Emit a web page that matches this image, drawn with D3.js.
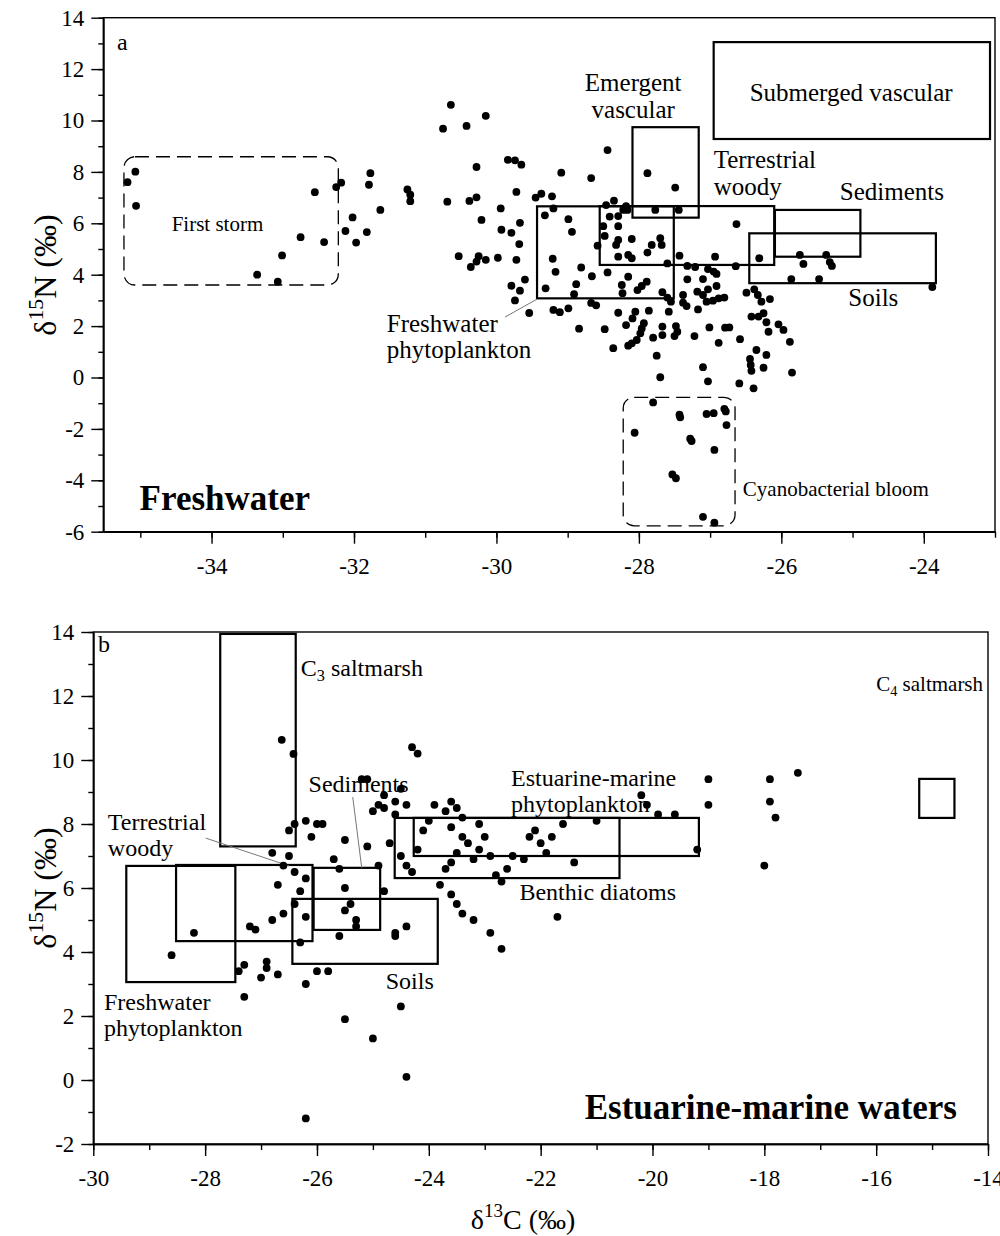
<!DOCTYPE html>
<html><head><meta charset="utf-8">
<script src="https://cdn.jsdelivr.net/npm/d3@7"></script>
<style>
body{margin:0;background:#fff}
svg text{font-family:"Liberation Serif","Times New Roman",serif;fill:#000}
</style></head>
<body><svg id="chart" width="1000" height="1236"></svg>
<script>
// ---------- DATA ----------
// Panel a (Freshwater): [δ13C, δ15N]
const freshwaterPoints = [
[-35.07,8.01],[-35.18,7.60],[-35.06,6.68],[-33.36,4.00],[-33.07,3.73],[-33.01,4.75],[-32.75,5.46],[-32.55,7.21],[-32.42,5.27],[-32.25,7.41],[-32.18,7.58],[-32.12,5.70],[-32.02,6.23],[-31.97,5.25],[-31.82,5.66],[-31.79,7.50],[-31.77,7.95],[-31.63,6.52],
[-30.64,10.61],[-30.15,10.18],[-30.75,9.68],[-30.42,9.79],[-29.84,8.47],[-29.74,8.45],[-29.65,8.28],[-30.28,8.19],[-29.09,7.97],[-28.67,7.76],[-31.25,7.32],[-31.21,7.11],[-31.21,6.86],[-30.69,6.84],[-30.38,6.87],[-30.28,7.01],[-29.72,7.22],[-29.45,7.00],[-29.37,7.15],[-29.22,7.05],[-29.20,6.58],[-29.32,6.31],[-29.94,6.58],[-30.21,6.13],[-29.93,5.75],[-29.79,5.63],[-29.67,6.02],[-29.68,5.19],[-28.99,6.16],[-28.94,5.67],[-28.58,5.13],[-30.53,4.72],[-30.25,4.72],[-30.28,4.51],[-30.36,4.30],[-30.15,4.58],[-29.98,4.66],[-29.72,4.58],[-29.21,4.62],[-29.17,4.11],[-28.81,4.28],
[-28.66,3.94],[-29.60,3.81],[-29.79,3.57],[-29.67,3.38],[-29.74,3.00],[-29.54,2.51],[-29.31,3.47],[-28.88,3.63],[-28.91,3.24],[-29.20,2.63],[-29.11,2.54],[-28.99,2.69],[-28.67,2.90],[-28.60,2.81],[-28.84,1.90],
[-28.44,8.85],[-27.88,7.95],[-27.49,7.39],[-28.35,6.88],[-28.46,6.71],[-28.18,6.67],[-28.22,6.52],[-28.16,6.52],[-27.77,6.52],[-27.44,6.52],[-28.41,6.26],[-28.29,6.28],[-28.50,5.89],[-28.29,5.89],[-26.63,5.97],[-28.48,5.51],[-28.29,5.35],[-28.32,5.16],[-28.10,5.39],[-27.70,5.42],[-27.68,5.16],[-27.82,5.16],[-28.29,4.70],[-28.15,4.77],[-28.10,4.64],[-27.88,4.86],[-27.60,4.44],[-27.43,4.74],[-26.93,4.70],[-26.31,4.64],[-25.74,4.77],[-25.69,4.42],[-27.32,4.34],[-27.21,4.30],[-26.64,4.33],
[-27.03,4.22],[-26.95,4.12],[-26.91,4.03],[-28.44,4.09],[-28.15,3.92],[-28.24,3.60],[-28.23,3.28],[-27.89,3.73],[-27.96,3.56],[-28.02,3.40],[-27.67,3.32],[-27.60,3.11],[-27.55,2.95],[-27.32,3.82],[-27.10,3.83],[-26.91,3.56],[-27.03,3.43],[-27.18,3.34],[-27.10,3.21],[-27.05,2.95],[-26.96,2.99],[-26.88,3.08],[-26.80,3.11],[-27.38,3.21],[-27.38,2.91],[-27.33,2.78],[-27.58,2.56],[-27.17,2.65],[-26.49,3.30],[-26.38,3.43],[-26.33,3.21],[-26.28,2.95],[-26.16,3.05],[-25.86,3.83],[-28.29,2.52],[-28.05,2.56],[-28.09,2.30],[-27.86,2.60],[-28.18,2.04],[-28.48,1.88],[-27.93,2.11],[-27.96,1.91],[-27.98,1.72],[-27.67,1.98],[-27.67,1.65],[-27.48,2.00],[-27.46,1.78],[-27.50,1.61],[-27.80,1.55],[-27.22,1.61],[-27.01,1.95],[-26.79,1.94],[-26.73,1.95],[-26.42,2.37],[-26.32,2.37],[-26.25,2.50],[-26.21,2.15],[-26.18,1.78],[-26.04,2.07],[-25.97,1.85],[-25.88,1.39],[-26.88,1.35],[-26.58,1.49],[-28.03,1.46],[-28.10,1.33],[-28.15,1.24],[-28.36,1.14],[-27.75,0.85],[-26.35,1.07],[-26.21,0.88],[-26.44,0.72],[-26.43,0.49],[-26.42,0.26],[-26.25,0.38],[-27.10,0.40],[-25.85,0.19],[-27.70,0.01],[-27.03,-0.15],[-26.59,-0.23],[-26.39,-0.42],
[-27.80,-0.97],[-27.43,-1.45],[-27.42,-1.55],[-27.05,-1.42],[-26.95,-1.39],[-26.80,-1.22],[-26.78,-1.32],[-26.77,-1.85],[-28.06,-2.15],[-27.28,-2.38],[-27.26,-2.47],[-26.94,-2.82],[-27.53,-3.77],[-27.48,-3.92],[-27.10,-5.42],[-26.94,-5.65],
[-25.37,4.77],[-25.32,4.49],[-25.29,4.34],[-25.47,3.83],[-23.88,3.52]
];
// Panel b (Estuarine-marine waters): [δ13C, δ15N]
const estuarinePoints = [
[-28.2,4.6],[-28.6,3.9],[-27.2,4.8],[-27.1,4.7],[-27.3,3.6],[-27.4,3.4],[-27.3,2.6],[-27.0,3.2],[-26.9,3.5],[-26.9,3.7],[-26.7,3.3],[-26.8,5.0],[-26.6,5.2],[-26.7,6.1],[-26.6,6.7],[-26.5,7.0],[-26.8,7.1],[-26.4,5.5],[-26.3,5.9],[-26.4,6.5],[-26.2,6.3],[-26.2,5.1],[-26.3,4.3],[-26.2,3.0],[-26.0,3.4],[-25.8,3.4],[-26.1,7.6],[-26.0,8.0],[-25.9,8.0],[-26.2,8.1],[-26.4,8.0],[-26.5,7.8],[-26.63,10.63],[-26.42,10.19],[-25.7,6.9],[-25.6,6.6],[-25.5,7.5],[-25.5,6.0],[-25.4,5.5],[-25.3,5.0],[-25.5,5.3],[-25.3,4.8],[-25.2,9.4],[-25.1,9.4],[-25.0,8.4],[-25.1,7.3],[-24.9,6.7],[-24.8,5.9],[-25.6,4.5],[-25.5,1.9],[-25.0,1.3],[-24.4,0.1],[-26.2,-1.2],[-24.5,2.3],[-24.6,4.5],[-24.6,4.6],[-24.4,4.8],
[-24.3,10.4],[-24.2,10.2],[-24.5,9.1],[-24.6,8.7],[-24.4,8.6],[-24.6,8.3],[-24.8,8.5],[-24.9,8.6],[-24.8,8.9],[-24.7,7.4],[-24.5,7.0],[-24.4,6.7],[-24.3,6.5],[-24.2,7.2],[-24.1,7.8],[-24.0,8.1],[-23.9,8.6],[-23.7,8.4],[-23.6,8.7],[-23.5,8.5],[-23.4,8.2],[-23.6,7.9],[-23.4,7.6],[-23.3,7.4],[-23.5,7.1],[-23.6,6.8],[-23.7,6.6],[-23.8,6.1],[-23.6,5.8],[-23.5,5.5],[-23.2,6.9],[-23.1,7.2],[-23.0,7.6],[-23.1,8.0],[-22.9,7.0],[-22.8,6.4],[-22.7,6.2],[-22.6,6.6],[-22.5,7.0],[-22.3,6.9],[-22.2,7.6],[-22.1,7.8],[-22.0,7.4],[-21.9,7.1],[-21.8,7.6],[-21.6,8.0],[-21.4,6.8],[-21.7,5.1],[-22.9,4.6],[-22.7,4.1],[-23.4,5.2],[-23.2,5.0],[-21.0,8.1],[-20.2,8.9],[-20.1,8.6],[-19.9,8.3],[-19.6,8.3],[-19.2,7.2],[-19.0,9.4],[-19.0,8.6],[-18.0,6.7],[-17.9,9.4],[-17.9,8.7],[-17.8,8.2],[-17.4,9.6]
];

// Source boxes: [name, xMin, xMax, yMin, yMax]
const freshwaterBoxes = [
["Submerged vascular",-26.95,-23.07,9.28,13.05],
["Emergent vascular",-28.09,-27.16,6.22,9.74],
["Terrestrial woody",-28.55,-26.10,4.38,6.67],
["Freshwater phytoplankton",-29.43,-27.51,3.08,6.66],
["Sediments",-26.09,-24.89,4.70,6.52],
["Soils",-26.45,-23.83,3.67,5.61]
];
const freshwaterEvents = [
["First storm",-35.23,-32.22,3.60,8.59],
["Cyanobacterial bloom",-28.22,-26.65,-5.77,-0.77]
];
const estuarineBoxes = [
["C3 saltmarsh",-27.73,-26.38,7.3,13.94],
["C4 saltmarsh",-15.23,-14.60,8.19,9.41],
["Estuarine-marine phytoplankton",-24.27,-19.17,7.0,8.19],
["Benthic diatoms",-24.61,-20.59,6.31,8.19],
["Terrestrial woody",-28.52,-26.08,4.34,6.72],
["Freshwater phytoplankton",-29.41,-27.46,3.06,6.69],
["Sediments",-26.06,-24.87,4.69,6.63],
["Soils",-26.44,-23.84,3.63,5.66]
];

// Axis ticks
const xMajorA = [-34,-32,-30,-28,-26,-24];
const xMinorA = [-35,-34,-33,-32,-31,-30,-29,-28,-27,-26,-25,-24,-23];
const yMajorA = [-6,-4,-2,0,2,4,6,8,10,12,14];
const yMinorA = [-6,-5,-4,-3,-2,-1,0,1,2,3,4,5,6,7,8,9,10,11,12,13,14];
const xMajorB = [-30,-28,-26,-24,-22,-20,-18,-16,-14];
const xMinorB = [-30,-29,-28,-27,-26,-25,-24,-23,-22,-21,-20,-19,-18,-17,-16,-15,-14];
const yMajorB = [-2,0,2,4,6,8,10,12,14];
const yMinorB = [-2,-1,0,1,2,3,4,5,6,7,8,9,10,11,12,13,14];

// Annotation texts: [parts, x, y, anchor, size]
const labelsA = [
[[["Submerged vascular","n"]],-25.02,10.76,"middle",25],
[[["Emergent","n"]],-28.08,11.15,"middle",25],
[[["vascular","n"]],-28.08,10.10,"middle",25],
[[["Terrestrial","n"]],-26.95,8.15,"start",25],
[[["woody","n"]],-26.95,7.10,"start",25],
[[["Sediments","n"]],-25.18,6.91,"start",25],
[[["Soils","n"]],-25.06,2.78,"start",25],
[[["Freshwater","n"]],-31.54,1.77,"start",25],
[[["phytoplankton","n"]],-31.54,0.76,"start",25],
[[["First storm","n"]],-34.56,5.70,"start",21],
[[["Cyanobacterial bloom","n"]],-26.54,-4.63,"start",21]
];
const leadersA = [[-29.88,2.35,-29.43,3.05]];
const labelsB = [
[[["C","n"],["3","sub"],[" saltmarsh","n"]],-26.29,12.63,"start",24],
[[["C","n"],["4","sub"],[" saltmarsh","n"]],-16.0,12.16,"start",21],
[[["Estuarine-marine","n"]],-22.53,9.19,"start",24],
[[["phytoplankton","n"]],-22.53,8.38,"start",24],
[[["Sediments","n"]],-26.15,9.0,"start",24],
[[["Terrestrial","n"]],-29.74,7.81,"start",24],
[[["woody","n"]],-29.74,7.0,"start",24],
[[["Benthic diatoms","n"]],-22.38,5.63,"start",24],
[[["Soils","n"]],-24.77,2.84,"start",24],
[[["Freshwater","n"]],-29.81,2.19,"start",24],
[[["phytoplankton","n"]],-29.81,1.38,"start",24]
];
const leadersB = [[-27.99,7.56,-26.5,6.69],[-25.36,8.84,-25.2,6.63]];

// ---------- DRAW ----------
const svg = d3.select("#chart");
svg.append("rect").attr("width",1000).attr("height",1236).attr("fill","#fff");

function richText(g, parts, size) {
  let shift = 0;
  parts.forEach(([t, kind]) => {
    const ts = g.append("tspan").text(t);
    if (kind === "sub") { ts.attr("font-size", size*0.68).attr("dy", size*0.22 - shift); shift = size*0.22; }
    else if (kind === "sup") { ts.attr("font-size", size*0.68).attr("dy", -size*0.42 - shift); shift = -size*0.42; }
    else { ts.attr("dy", -shift); shift = 0; }
  });
}

function panel(o) {
  const x = d3.scaleLinear().domain(o.xDomain).range([o.left, o.right]);
  const y = d3.scaleLinear().domain(o.yDomain).range([o.bottom, o.top]);
  const g = svg.append("g");

  g.append("rect").attr("x",o.left).attr("y",o.top)
    .attr("width",o.right-o.left).attr("height",o.bottom-o.top)
    .attr("fill","none").attr("stroke","#000").attr("stroke-width",1.4);

  const styleAxis = sel => {
    sel.selectAll("path,line").attr("stroke","#000").attr("stroke-width",1.4);
    sel.selectAll("text").attr("font-family","Liberation Serif, Times New Roman, serif").attr("font-size",23).attr("fill","#000");
  };
  g.append("g").attr("transform",`translate(0,${o.bottom})`)
    .call(d3.axisBottom(x).tickValues(o.xMinor).tickSize(6).tickFormat("").tickSizeOuter(0)).call(styleAxis);
  g.append("g").attr("transform",`translate(0,${o.bottom})`)
    .call(d3.axisBottom(x).tickValues(o.xMajor).tickSize(12).tickPadding(14).tickSizeOuter(0).tickFormat(d=>String(d))).call(styleAxis);
  g.append("g").attr("transform",`translate(${o.left},0)`)
    .call(d3.axisLeft(y).tickValues(o.yMinor).tickSize(5).tickFormat("").tickSizeOuter(0)).call(styleAxis);
  g.append("g").attr("transform",`translate(${o.left},0)`)
    .call(d3.axisLeft(y).tickValues(o.yMajor).tickSize(12).tickPadding(7).tickSizeOuter(0).tickFormat(d=>String(d))).call(styleAxis);

  g.append("g").selectAll("rect").data(o.boxes).join("rect")
    .attr("x",d=>x(d[1])).attr("y",d=>y(d[4]))
    .attr("width",d=>x(d[2])-x(d[1])).attr("height",d=>y(d[3])-y(d[4]))
    .attr("fill","none").attr("stroke","#000").attr("stroke-width",2.2);
  g.append("g").selectAll("rect").data(o.dashed || []).join("rect")
    .attr("x",d=>x(d[1])).attr("y",d=>y(d[4]))
    .attr("width",d=>x(d[2])-x(d[1])).attr("height",d=>y(d[3])-y(d[4]))
    .attr("rx",11).attr("ry",11)
    .attr("fill","none").attr("stroke","#000").attr("stroke-width",1.3)
    .attr("stroke-dasharray","14,7");

  g.append("g").selectAll("line").data(o.leaders).join("line")
    .attr("x1",d=>x(d[0])).attr("y1",d=>y(d[1])).attr("x2",d=>x(d[2])).attr("y2",d=>y(d[3]))
    .attr("stroke","#777").attr("stroke-width",1);

  g.append("g").selectAll("circle").data(o.points).join("circle")
    .attr("cx",d=>x(d[0])).attr("cy",d=>y(d[1])).attr("r",3.9).attr("fill","#000");

  o.labels.forEach(([parts, lx, ly, anchor, size]) => {
    const t = g.append("text").attr("x",x(lx)).attr("y",y(ly))
      .attr("font-size",size).attr("text-anchor",anchor);
    richText(t, parts, size);
  });
  return {x, y, g};
}

const A = panel({
  left:103.3, right:995, top:17.7, bottom:531.7,
  xDomain:[-35.52,-23.0], yDomain:[-6,14],
  xMajor:xMajorA, xMinor:xMinorA, yMajor:yMajorA, yMinor:yMinorA,
  points:freshwaterPoints, boxes:freshwaterBoxes, dashed:freshwaterEvents,
  labels:labelsA, leaders:leadersA
});
const B = panel({
  left:93.3, right:988, top:632, bottom:1144,
  xDomain:[-30,-14], yDomain:[-2,14],
  xMajor:xMajorB, xMinor:xMinorB, yMajor:yMajorB, yMinor:yMinorB,
  points:estuarinePoints, boxes:estuarineBoxes, dashed:[],
  labels:labelsB, leaders:leadersB
});

svg.append("text").attr("x",117).attr("y",50).attr("font-size",24).text("a");
svg.append("text").attr("x",98).attr("y",652).attr("font-size",24).text("b");
svg.append("text").attr("x",A.x(-35.01)).attr("y",A.y(-5.16)).attr("font-size",35).attr("font-weight","bold").text("Freshwater");
svg.append("text").attr("x",957).attr("y",1119).attr("font-size",35).attr("font-weight","bold").attr("text-anchor","end").text("Estuarine-marine waters");

function yTitle(cx, cy) {
  const t = svg.append("text").attr("transform",`translate(${cx},${cy}) rotate(-90)`)
    .attr("text-anchor","middle").attr("y",10).attr("font-size",32);
  richText(t, [["δ","n"],["15","sup"],["N (‰)","n"]], 32);
}
yTitle(46, 275);
yTitle(46, 888);
const xt = svg.append("text").attr("x",523).attr("y",1229).attr("text-anchor","middle").attr("font-size",28);
richText(xt, [["δ","n"],["13","sup"],["C (‰)","n"]], 28);
</script></body></html>
